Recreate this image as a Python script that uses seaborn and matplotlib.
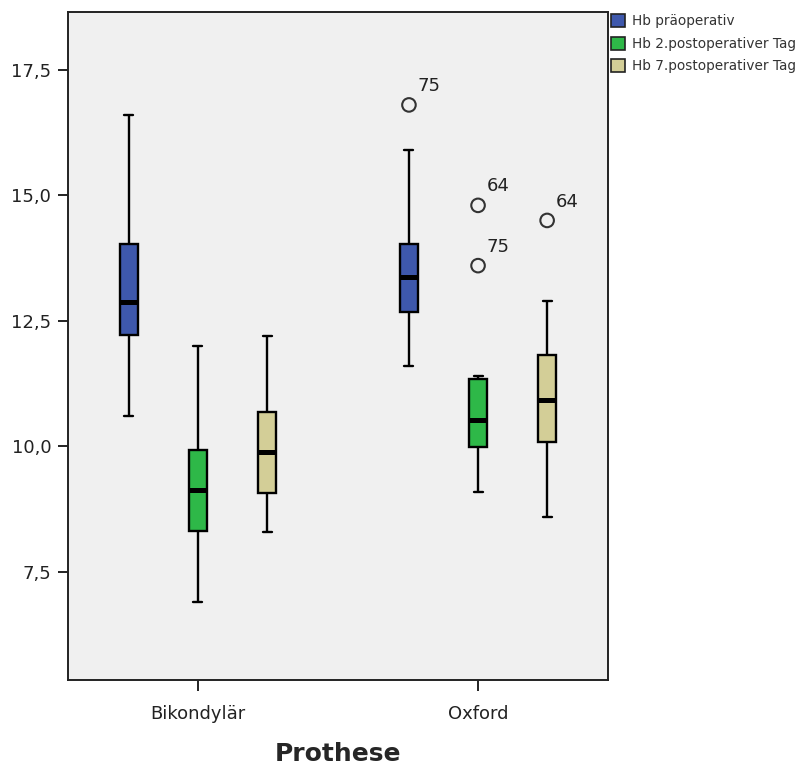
import matplotlib
matplotlib.use("Agg")
import matplotlib.pyplot as plt
from matplotlib.patches import Patch
from matplotlib.ticker import FixedLocator, FuncFormatter
import pandas as pd
import seaborn as sns

# Gruppen und Messzeitpunkte
prothesen = ["Bikondylär", "Oxford"]
messungen = ["Hb präoperativ", "Hb 2.postoperativer Tag", "Hb 7.postoperativer Tag"]
farben = ["#3E58AC", "#2EB848", "#D3CE97"]

# Kennwerte der Boxplots je Messung, Reihenfolge wie in `prothesen`
whisker_unten = {
    "Hb präoperativ": [10.6, 11.6],
    "Hb 2.postoperativer Tag": [6.9, 9.1],
    "Hb 7.postoperativer Tag": [8.3, 8.6],
}
quartil_1 = {
    "Hb präoperativ": [12.22, 12.68],
    "Hb 2.postoperativer Tag": [8.32, 9.98],
    "Hb 7.postoperativer Tag": [9.07, 10.08],
}
median = {
    "Hb präoperativ": [12.88, 13.38],
    "Hb 2.postoperativer Tag": [9.13, 10.52],
    "Hb 7.postoperativer Tag": [9.88, 10.93],
}
quartil_3 = {
    "Hb präoperativ": [14.04, 14.04],
    "Hb 2.postoperativer Tag": [9.92, 11.34],
    "Hb 7.postoperativer Tag": [10.68, 11.82],
}
whisker_oben = {
    "Hb präoperativ": [16.6, 15.9],
    "Hb 2.postoperativer Tag": [12.0, 11.4],
    "Hb 7.postoperativer Tag": [12.2, 12.9],
}

# Ausreißer mit Fallnummer
ausreisser_prothese = ["Oxford", "Oxford", "Oxford", "Oxford"]
ausreisser_messung = ["Hb präoperativ", "Hb 2.postoperativer Tag",
                      "Hb 2.postoperativer Tag", "Hb 7.postoperativer Tag"]
ausreisser_hb = [16.8, 14.8, 13.6, 14.5]
ausreisser_fall = ["75", "64", "75", "64"]

y_ticks = [7.5, 10.0, 12.5, 15.0, 17.5]

# Langformat: je Box die fünf Kennwerte (Whisker reichen bis Min/Max)
zeilen = []
for m in messungen:
    for i, p in enumerate(prothesen):
        for wert in (whisker_unten[m][i], quartil_1[m][i], median[m][i],
                     quartil_3[m][i], whisker_oben[m][i]):
            zeilen.append({"Prothese": p, "Messung": m, "Hb": wert})
df = pd.DataFrame(zeilen)

sns.set_style("ticks")
plt.rcParams["font.family"] = ["DejaVu Sans"]

fig = plt.figure(figsize=(7.97, 7.69), dpi=100)
ax = fig.add_axes([68 / 797, 1 - 680 / 769, 540 / 797, 668 / 769])
ax.set_facecolor("#F0F0F0")

breite = 0.74
sns.boxplot(
    data=df, x="Prothese", y="Hb", hue="Messung",
    order=prothesen, hue_order=messungen, palette=farben, saturation=1,
    width=breite, gap=0.74, whis=(0, 100), showfliers=False,
    linecolor="black", linewidth=1.7,
    medianprops=dict(color="black", linewidth=3.6),
    legend=False, ax=ax,
)

# Ausreißer als offene Kreise an der Position ihrer Box
for p, m, hb, fall in zip(ausreisser_prothese, ausreisser_messung,
                          ausreisser_hb, ausreisser_fall):
    x = prothesen.index(p) + (messungen.index(m) - 1) * breite / len(messungen)
    ax.scatter([x], [hb], s=95, facecolors="none", edgecolors="#333333",
               linewidths=1.5, zorder=5)
    ax.annotate(fall, (x, hb), xytext=(6, 10), textcoords="offset points",
                fontsize=13, color="#222222", ha="left", va="baseline")

ax.set_xlim(-0.464, 1.464)
ax.set_ylim(5.35, 18.65)
ax.yaxis.set_major_locator(FixedLocator(y_ticks))
ax.yaxis.set_major_formatter(FuncFormatter(lambda v, _: f"{v:.1f}".replace(".", ",")))

for s in ax.spines.values():
    s.set_visible(True)
    s.set_color("#222222")
    s.set_linewidth(1.4)

ax.tick_params(axis="both", direction="out", length=7, width=1.4,
               color="#222222", labelsize=13, labelcolor="#222222", pad=5)
ax.tick_params(axis="x", length=8, pad=10)
ax.set_ylabel("")
ax.set_xlabel("Prothese", fontsize=18, fontweight="bold", labelpad=14)

griffe = [Patch(facecolor=c, edgecolor="#222222", linewidth=1.2) for c in farben]
fig.legend(griffe, messungen, loc="upper left",
           bbox_to_anchor=(611 / 797, 1 - 14 / 769), frameon=False,
           fontsize=9.8, handlelength=1.05, handleheight=1.1,
           handletextpad=0.5, labelspacing=0.62, borderpad=0,
           borderaxespad=0, labelcolor="#333333")

fig.savefig("out.png", dpi=100, facecolor="white")
